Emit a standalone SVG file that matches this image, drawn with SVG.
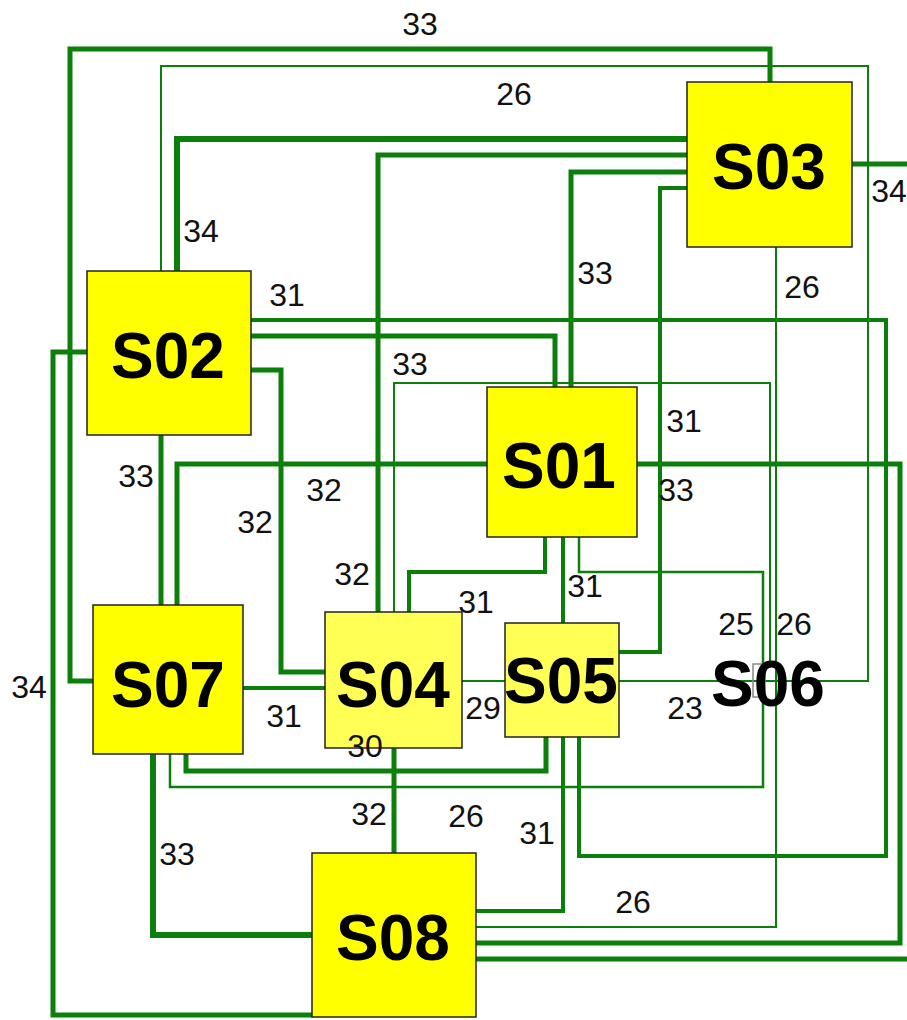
<svg xmlns="http://www.w3.org/2000/svg" width="907" height="1020" viewBox="0 0 907 1020">
<style>
.c{fill:none;stroke:#0a7f0a;stroke-linejoin:miter;stroke-linecap:butt}
.t6{stroke-width:6}
.t5{stroke-width:5}
.t4{stroke-width:4}
.t3{stroke-width:2.5}
.t2{stroke-width:2}
.box{fill:#ffff00;stroke:#222;stroke-width:1.5}
.box2{fill:#ffff55;stroke:#222;stroke-width:1.5}
.nt{font-family:"Liberation Sans",Arial,sans-serif;font-weight:bold;font-size:64px;fill:#000;text-anchor:middle}
.lb{font-family:"Liberation Sans",Arial,sans-serif;font-size:32px;fill:#111;text-anchor:middle}
</style>
<rect width="907" height="1020" fill="#ffffff"/>
<g id="connectors">
<path class="c t5" d="M770,82 V49 H70 V681 H93"/>
<path class="c t2" d="M161,271 V66 H868 V681 H619"/>
<path class="c t6" d="M177,271 V139 H687"/>
<path class="c t5" d="M687,155 H378 V612"/>
<path class="c t5" d="M687,172 H571 V387"/>
<path class="c t4" d="M687,188 H660 V652 H619"/>
<path class="c t5" d="M852,164 H907"/>
<path class="c t2" d="M776,247 V927 H476"/>
<path class="c t4" d="M251,320 H886 V856 H579 V737"/>
<path class="c t5" d="M251,336 H555 V387"/>
<path class="c t5" d="M251,370 H281 V672 H325"/>
<path class="c t5" d="M161,435 V605"/>
<path class="c t5" d="M87,352 H53 V1015 H312"/>
<path class="c t5" d="M487,464 H177 V605"/>
<path class="c t5" d="M637,464 H900 V943 H476"/>
<path class="c t2" d="M394,612 V383 H770 V664"/>
<path class="c t4" d="M409,612 V572 H545 V537"/>
<path class="c t4" d="M563,537 V623"/>
<path class="c t3" d="M579,537 V572 H763 V787 H170 V754"/>
<path class="c t2" d="M462,681 H505"/>
<path class="c t4" d="M243,688 H325"/>
<path class="c t5" d="M394,748 V853"/>
<path class="c t5" d="M186,754 V771 H546 V737"/>
<path class="c t6" d="M153,754 V935 H312"/>
<path class="c t4" d="M563,737 V911 H476"/>
<path class="c t5" d="M476,959 H907"/>
</g>
<g id="connector-labels">
<text class="lb" x="420" y="35">33</text>
<text class="lb" x="514" y="105">26</text>
<text class="lb" x="201" y="242">34</text>
<text class="lb" x="287" y="306">31</text>
<text class="lb" x="595" y="284">33</text>
<text class="lb" x="802" y="298">26</text>
<text class="lb" x="889" y="202">34</text>
<text class="lb" x="410" y="375">33</text>
<text class="lb" x="684" y="432">31</text>
<text class="lb" x="136" y="487">33</text>
<text class="lb" x="324" y="501">32</text>
<text class="lb" x="255" y="533">32</text>
<text class="lb" x="676" y="501">33</text>
<text class="lb" x="352" y="585">32</text>
<text class="lb" x="476" y="613">31</text>
<text class="lb" x="585" y="597">31</text>
<text class="lb" x="736" y="635">25</text>
<text class="lb" x="794" y="635">26</text>
<text class="lb" x="29" y="698">34</text>
<text class="lb" x="483" y="719">29</text>
<text class="lb" x="685" y="719">23</text>
<text class="lb" x="284" y="727">31</text>
<text class="lb" x="369" y="825">32</text>
<text class="lb" x="466" y="827">26</text>
<text class="lb" x="537" y="844">31</text>
<text class="lb" x="177" y="865">33</text>
<text class="lb" x="633" y="913">26</text>
</g>
<g id="S03"><rect class="box" x="687" y="82" width="165" height="165"/><text class="nt" x="769" y="189">S03</text></g>
<g id="S02"><rect class="box" x="87" y="271" width="164" height="164"/><text class="nt" x="168" y="378">S02</text></g>
<g id="S01"><rect class="box" x="487" y="387" width="150" height="150"/><text class="nt" x="559" y="488">S01</text></g>
<g id="S07"><rect class="box" x="93" y="605" width="150" height="149"/><text class="nt" x="168" y="707">S07</text></g>
<g id="S04"><rect class="box2" x="325" y="612" width="137" height="136"/><text class="nt" x="393" y="707">S04</text></g>
<g id="S05"><rect class="box2" x="505" y="623" width="114" height="114"/><text class="nt" x="561" y="703">S05</text></g>
<g id="S06"><rect x="753" y="664" width="12" height="33" fill="none" stroke="#888" stroke-width="1.5"/><text class="nt" x="768" y="706">S06</text></g>
<g id="S08"><rect class="box" x="312" y="853" width="164" height="164"/><text class="nt" x="393" y="960">S08</text></g>
<text class="lb" x="365" y="757">30</text>
</svg>
